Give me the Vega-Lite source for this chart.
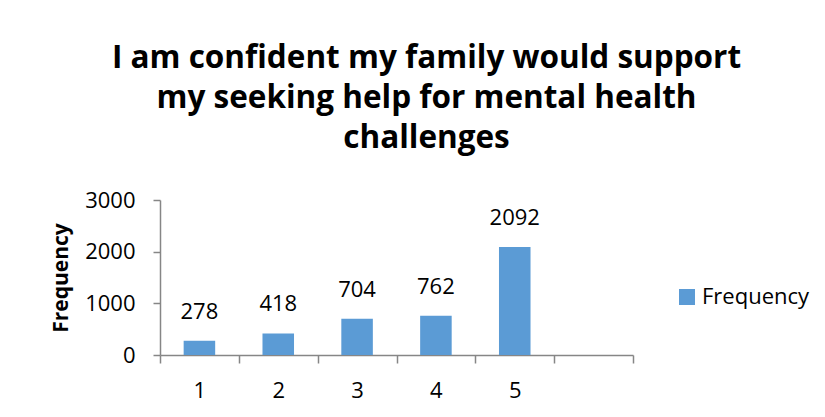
{
  "$schema": "https://vega.github.io/schema/vega-lite/v6.json",
  "width": 473,
  "height": 155,
  "autosize": {"type": "none"},
  "padding": {"left": 160, "top": 200, "right": 192, "bottom": 62},
  "background": "white",
  "config": {"font": "Open Sans", "view": {"stroke": null}},
  "title": {
    "text": ["I am confident my family would support", "my seeking help for mental health", "challenges"],
    "fontSize": 31.5,
    "fontWeight": "bold",
    "font": "Open Sans",
    "color": "black",
    "lineHeight": 40,
    "anchor": "middle",
    "dx": 30,
    "offset": 35
  },
  "data": {
    "values": [
      {"rating": "1", "Frequency": 278},
      {"rating": "2", "Frequency": 418},
      {"rating": "3", "Frequency": 704},
      {"rating": "4", "Frequency": 762},
      {"rating": "5", "Frequency": 2092}
    ]
  },
  "encoding": {
    "x": {
      "field": "rating",
      "type": "nominal",
      "scale": {"domain": ["1", "2", "3", "4", "5", " "], "paddingInner": 0, "paddingOuter": 0},
      "axis": {
        "title": null,
        "labelAngle": 0,
        "tickBand": "extent",
        "tickSize": 8,
        "tickColor": "#868686",
        "tickWidth": 1.5,
        "domainColor": "#868686",
        "domainWidth": 1.5,
        "labelFontSize": 22,
        "labelColor": "black",
        "labelPadding": 17
      }
    },
    "y": {
      "field": "Frequency",
      "type": "quantitative",
      "scale": {"domain": [0, 3000]},
      "axis": {
        "values": [0, 1000, 2000, 3000],
        "format": "d",
        "grid": false,
        "tickSize": 7,
        "tickColor": "#868686",
        "tickWidth": 1.5,
        "domainColor": "#868686",
        "domainWidth": 1.5,
        "labelFontSize": 22,
        "labelColor": "black",
        "labelPadding": 18,
        "title": "Frequency",
        "titleFontSize": 21,
        "titleFontWeight": "bold",
        "titleColor": "black",
        "titlePadding": 13
      }
    }
  },
  "layer": [
    {
      "mark": {"type": "bar", "width": {"band": 0.4}},
      "encoding": {
        "color": {
          "datum": "Frequency",
          "type": "nominal",
          "scale": {"range": ["#5B9BD5"]},
          "legend": {
            "title": null,
            "orient": "none",
            "legendX": 516,
            "legendY": 86,
            "padding": 0,
            "symbolType": "square",
            "symbolSize": 256,
            "symbolStrokeWidth": 0,
            "symbolOpacity": 1,
            "labelFontSize": 22,
            "labelColor": "black",
            "labelOffset": 4
          }
        }
      }
    },
    {
      "mark": {"type": "text", "baseline": "bottom", "dy": -17, "fontSize": 22, "color": "black"},
      "encoding": {"text": {"field": "Frequency", "type": "quantitative"}}
    }
  ]
}
